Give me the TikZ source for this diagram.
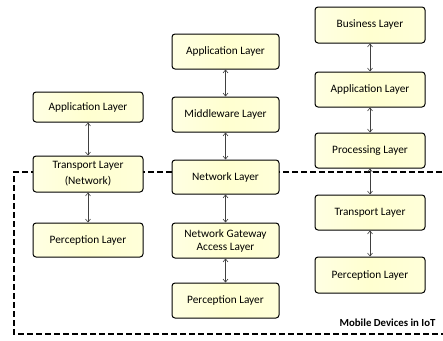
\documentclass[tikz,border=0pt]{standalone}
\usepackage{fontspec}
\setmainfont{Carlito}
\usetikzlibrary{arrows.meta}
\definecolor{boxfill}{RGB}{255,255,208}
\tikzset{
  layer/.style={draw=black, line width=1pt, rounded corners=3pt,
    left color=boxfill!60!white, right color=boxfill!80!white, middle color=boxfill,
    font=\fontsize{11.3}{13}\selectfont, align=center, inner sep=1pt},
  link/.style={draw=black!75, line width=0.6pt, {Straight Barb[length=3pt,width=5pt]}-{Straight Barb[length=3pt,width=5pt]}},
  region/.style={draw=black, line width=1.5pt, dash pattern=on 6pt off 3pt}
}
\begin{document}
\begin{tikzpicture}[x=1pt,y=-1pt]
\useasboundingbox (0,0) rectangle (443,340);
\fill[white] (0,0) rectangle (443,340);
% dashed region
\draw[region] (460,172) -- (14,172) -- (14,334) -- (460,334);
\node[anchor=east, font=\bfseries\fontsize{10.8}{12}\selectfont] (mob) at (439,323) {Mobile Devices in IoT};
% left column
\node[layer, minimum width=110pt, minimum height=30pt] (la) at (88,107) {Application Layer};
\node[layer, minimum width=110pt, minimum height=36pt] (lt) at (88,174) {Transport Layer\\[3pt](Network)};
\node[layer, minimum width=110pt, minimum height=34pt] (lp) at (88,240) {Perception Layer};
% middle column
\node[layer, minimum width=107pt, minimum height=35pt] (ma) at (225.5,51.5) {Application Layer};
\node[layer, minimum width=107pt, minimum height=35pt] (mm) at (225.5,114.5) {Middleware Layer};
\node[layer, minimum width=107pt, minimum height=34pt] (mn) at (225.5,177) {Network Layer};
\node[layer, minimum width=107pt, minimum height=35pt] (mg) at (225.5,240.5) {Network Gateway\\Access Layer};
\node[layer, minimum width=107pt, minimum height=35pt] (mp) at (225.5,300.5) {Perception Layer};
% right column
\node[layer, minimum width=110pt, minimum height=36pt] (rb) at (370,25) {Business Layer};
\node[layer, minimum width=110pt, minimum height=35pt] (ra) at (370,89.5) {Application Layer};
\node[layer, minimum width=110pt, minimum height=35pt] (rp) at (370,150.5) {Processing Layer};
\node[layer, minimum width=110pt, minimum height=35pt] (rt) at (370,212.5) {Transport Layer};
\node[layer, minimum width=110pt, minimum height=36pt] (rc) at (370,275) {Perception Layer};
% connectors
\draw[link] (la) -- (lt);
\draw[link] (lt) -- (lp);
\draw[link] (ma) -- (mm);
\draw[link] (mm) -- (mn);
\draw[link] (mn) -- (mg);
\draw[link] (mg) -- (mp);
\draw[link] (rb) -- (ra);
\draw[link] (ra) -- (rp);
\draw[link] (rp) -- (rt);
\draw[link] (rt) -- (rc);
\end{tikzpicture}
\end{document}
